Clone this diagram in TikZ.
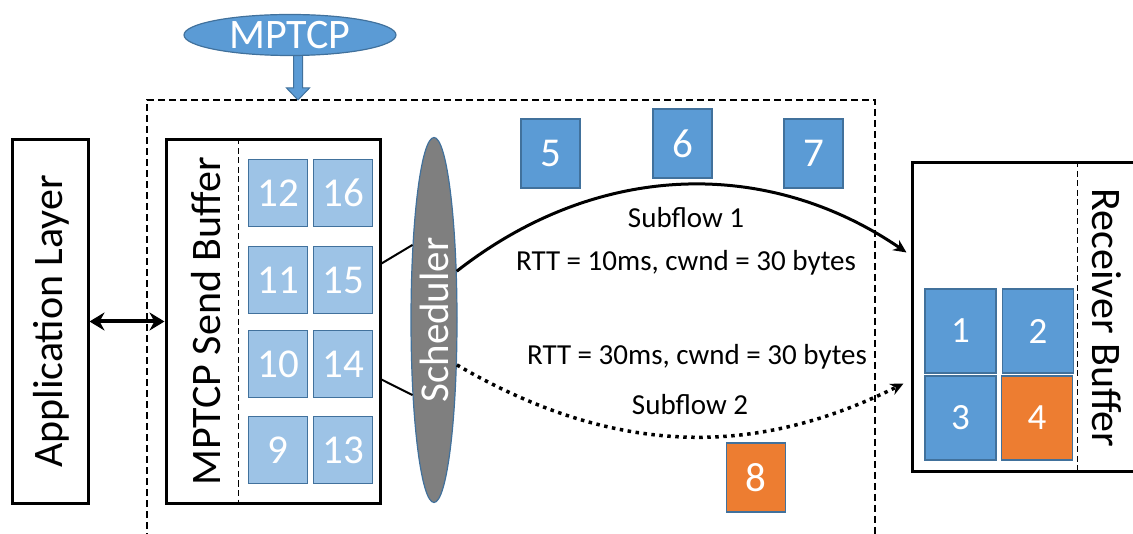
\documentclass[tikz,border=0pt]{standalone}
\usepackage{fontspec}
\setmainfont{Carlito}
\usetikzlibrary{shapes.geometric,arrows.meta}
\definecolor{pktblue}{HTML}{5B9BD5}
\definecolor{pktlight}{HTML}{9DC3E6}
\definecolor{pktedge}{HTML}{41719C}
\definecolor{pktorange}{HTML}{ED7D31}
\definecolor{schedgray}{HTML}{7F7F7F}

\begin{document}
\begin{tikzpicture}[x=1pt,y=-1pt,
	layer/.style={draw,line width=3pt,inner sep=0pt},
	pkt/.style={draw=pktedge,fill=pktblue,line width=1.2pt,inner sep=0pt,minimum width=59pt,minimum height=69pt,text=white,font=\fontsize{41}{41}\selectfont},
	sbpkt/.style={pkt,fill=pktlight,minimum height=67pt},
	rbpkt/.style={pkt,minimum width=71pt,minimum height=84pt,font=\fontsize{37}{37}\selectfont},
	lbl/.style={font=\fontsize{29}{29}\selectfont},
	big/.style={font=\fontsize{42}{42}\selectfont},
	sep/.style={line width=1.3pt,dash pattern=on 6pt off 3.5pt}]
	\useasboundingbox (0,0) rectangle (1133,534);
	% frame of the sender
	\coordinate (ftop) at (298,100);
	\draw[line width=2pt,dash pattern=on 7pt off 4pt] (147,540) -- (147,100) -- (875,100) -- (875,540);
	\draw[fill=pktblue,draw=pktedge,line width=1pt] (ftop) -- ++(-11.5,-12) -- ++(7,0) -- ++(0,-35) -- ++(9,0) -- ++(0,35) -- ++(7,0) -- cycle;
	\node[ellipse,draw=pktedge,fill=pktblue,line width=1.2pt,minimum width=212pt,minimum height=41pt,inner sep=0pt,text=white,big] (mptcp) at (290,35) {MPTCP};
	% application and send buffer
	\node[layer,minimum width=76pt,minimum height=363pt] (app) at (50,321.5) {};
	\node[rotate=90,big] (applbl) at (51,321.5) {Application Layer};
	\node[layer,minimum width=214pt,minimum height=363pt] (sbuf) at (273,321.5) {};
	\draw[sep] ([xshift=74pt]sbuf.north west) -- ([xshift=74pt]sbuf.south west);
	\node[rotate=90,big] (sblbl) at (206,321.5) {MPTCP Send Buffer};
	\foreach \n/\x/\y in {12/278/193,16/343/193,11/278/280,15/343/280,10/278/364,14/343/364,9/278/450,13/343/450}
		\node[sbpkt] (p\n) at (\x,\y) {\n};
	\draw[{Stealth[length=15pt,width=18pt]}-{Stealth[length=15pt,width=18pt]},line width=4pt] (app.east) -- (sbuf.west);
	% scheduler
	\node[ellipse,draw=pktedge,fill=schedgray,line width=1.2pt,minimum width=46pt,minimum height=365pt,inner sep=0pt] (sched) at (434,320) {};
	\node[rotate=90,text=white,font=\fontsize{41}{41}\selectfont] (schedlbl) at (sched) {Scheduler};
	\draw[line width=2pt] ([yshift=58pt]sbuf.east) -- (sched.106);
	\draw[line width=2pt] ([yshift=-58pt]sbuf.east) -- (sched.254);
	% packets in flight
	\node[pkt] (p5) at (550.5,153.5) {5};
	\node[pkt] (p6) at (682.5,143.5) {6};
	\node[pkt] (p7) at (813.5,153.5) {7};
	\node[pkt,fill=pktorange] (p8) at (756,477.5) {8};
	% receiver
	\node[layer,minimum width=228pt,minimum height=309pt] (recv) at (1026,317.5) {};
	\draw[sep] ([xshift=167pt]recv.north west) -- ([xshift=167pt]recv.south west);
	\node[rotate=-90,big] (rblbl) at (1107,318) {Receiver Buffer};
	\node[rbpkt] (p1) at (960.5,331) {1};
	\node[rbpkt] (p2) at (1038,331) {2};
	\node[rbpkt] (p3) at (960.5,418) {3};
	\node[rbpkt,fill=pktorange] (p4) at (1037,418) {4};
	% subflows
	\draw[line width=3pt,-{Stealth[length=13pt,width=12pt]}] (sched.65) .. controls (600,159) and (770,159) .. ([xshift=-4pt,yshift=65pt]recv.west);
	\draw[line width=3.5pt,dash pattern=on 3.5pt off 4.5pt,-{Stealth[length=13pt,width=12pt]}] (sched.-63) .. controls (620,460) and (760,455) .. ([xshift=-7pt,yshift=-66pt]recv.west);
	\node[lbl] (sf1) at (686,218) {Subflow 1};
	\node[lbl] (rtt1) at (686,263) {RTT = 10ms, cwnd = 30 bytes};
	\node[lbl] (rtt2) at (697,357) {RTT = 30ms, cwnd = 30 bytes};
	\node[lbl] (sf2) at (690,405) {Subflow 2};
\end{tikzpicture}
\end{document}
